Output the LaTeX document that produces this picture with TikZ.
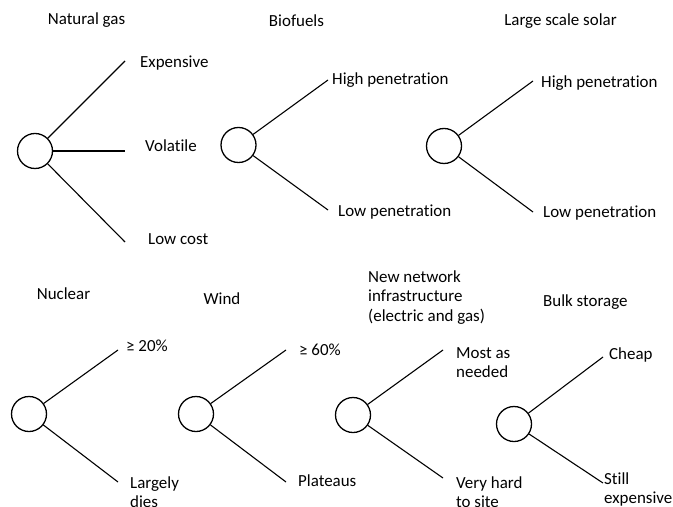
\documentclass[tikz,border=0pt]{standalone}
\usepackage{fontspec}
\setmainfont[Ligatures=NoCommon]{Carlito}
\begin{document}
\begin{tikzpicture}[x=1bp,y=-1bp,
  chance/.style={draw, circle, line width=1.3pt, minimum size=35bp, inner sep=0pt, fill=white},
  branch/.style={line width=1.1pt},
  lbl/.style={anchor=base west, inner sep=0pt, align=left, font=\fontsize{17}{19.5}\selectfont},
  ttl/.style={anchor=base, inner sep=0pt, align=center, font=\fontsize{17}{19.5}\selectfont}]
\useasboundingbox (0,0) rectangle (673,507);
% Natural gas
\node[ttl] (t1) at (86.5,25) {Natural gas};
\node[chance] (c1) at (35,151) {};
\coordinate (e1a) at (125,61);
\coordinate (e1b) at (125,151);
\coordinate (e1c) at (125,242);
\draw[branch] (c1) -- (e1a);
\draw[branch] (c1) -- (e1b);
\draw[branch] (c1) -- (e1c);
\node[lbl] (l1a) at (140,68) {Expensive};
\node[lbl] (l1b) at (145,152) {Volatile};
\node[lbl] (l1c) at (148,245) {Low cost};
% Biofuels
\node[ttl] (t2) at (296.5,27) {Biofuels};
\node[chance] (c2) at (238.5,145) {};
\coordinate (e2a) at (328,80);
\coordinate (e2b) at (328,210);
\draw[branch] (c2) -- (e2a);
\draw[branch] (c2) -- (e2b);
\node[lbl] (l2a) at (332,85) {High penetration};
\node[lbl] (l2b) at (338,217) {Low penetration};
% Large scale solar
\node[ttl] (t3) at (560.5,26) {Large scale solar};
\node[chance] (c3) at (444,146) {};
\coordinate (e3a) at (533,81);
\coordinate (e3b) at (533,212);
\draw[branch] (c3) -- (e3a);
\draw[branch] (c3) -- (e3b);
\node[lbl] (l3a) at (541,88) {High penetration};
\node[lbl] (l3b) at (543,218) {Low penetration};
% Nuclear
\node[ttl] (t4) at (63.5,299) {Nuclear};
\node[chance] (c4) at (29,414) {};
\coordinate (e4a) at (118,350);
\coordinate (e4b) at (118,482);
\draw[branch] (c4) -- (e4a);
\draw[branch] (c4) -- (e4b);
\node[lbl] (l4a) at (126,351) {≥ 20\%};
\node[lbl] (l4b) at (130,507.5) {Largely\\dies};
% Wind
\node[ttl] (t5) at (222,304) {Wind};
\node[chance] (c5) at (196,414) {};
\coordinate (e5a) at (286,350);
\coordinate (e5b) at (286,482);
\draw[branch] (c5) -- (e5a);
\draw[branch] (c5) -- (e5b);
\node[lbl] (l5a) at (299,355) {≥ 60\%};
\node[lbl] (l5b) at (298,486) {Plateaus};
% New network infrastructure
\node[lbl] (t6) at (368,321) {New network\\infrastructure\\(electric and gas)};
\node[chance] (c6) at (353,415) {};
\coordinate (e6a) at (443,350);
\coordinate (e6b) at (443,478);
\draw[branch] (c6) -- (e6a);
\draw[branch] (c6) -- (e6b);
\node[lbl] (l6a) at (456,377.5) {Most as\\needed};
\node[lbl] (l6b) at (456,507.5) {Very hard\\to site};
% Bulk storage
\node[lbl] (t7) at (543,306) {Bulk storage};
\node[chance] (c7) at (514,424) {};
\coordinate (e7a) at (603,357);
\coordinate (e7b) at (603,483);
\draw[branch] (c7) -- (e7a);
\draw[branch] (c7) -- (e7b);
\node[lbl] (l7a) at (609,359) {Cheap};
\node[lbl] (l7b) at (604,503.5) {Still\\expensive};
\end{tikzpicture}
\end{document}
